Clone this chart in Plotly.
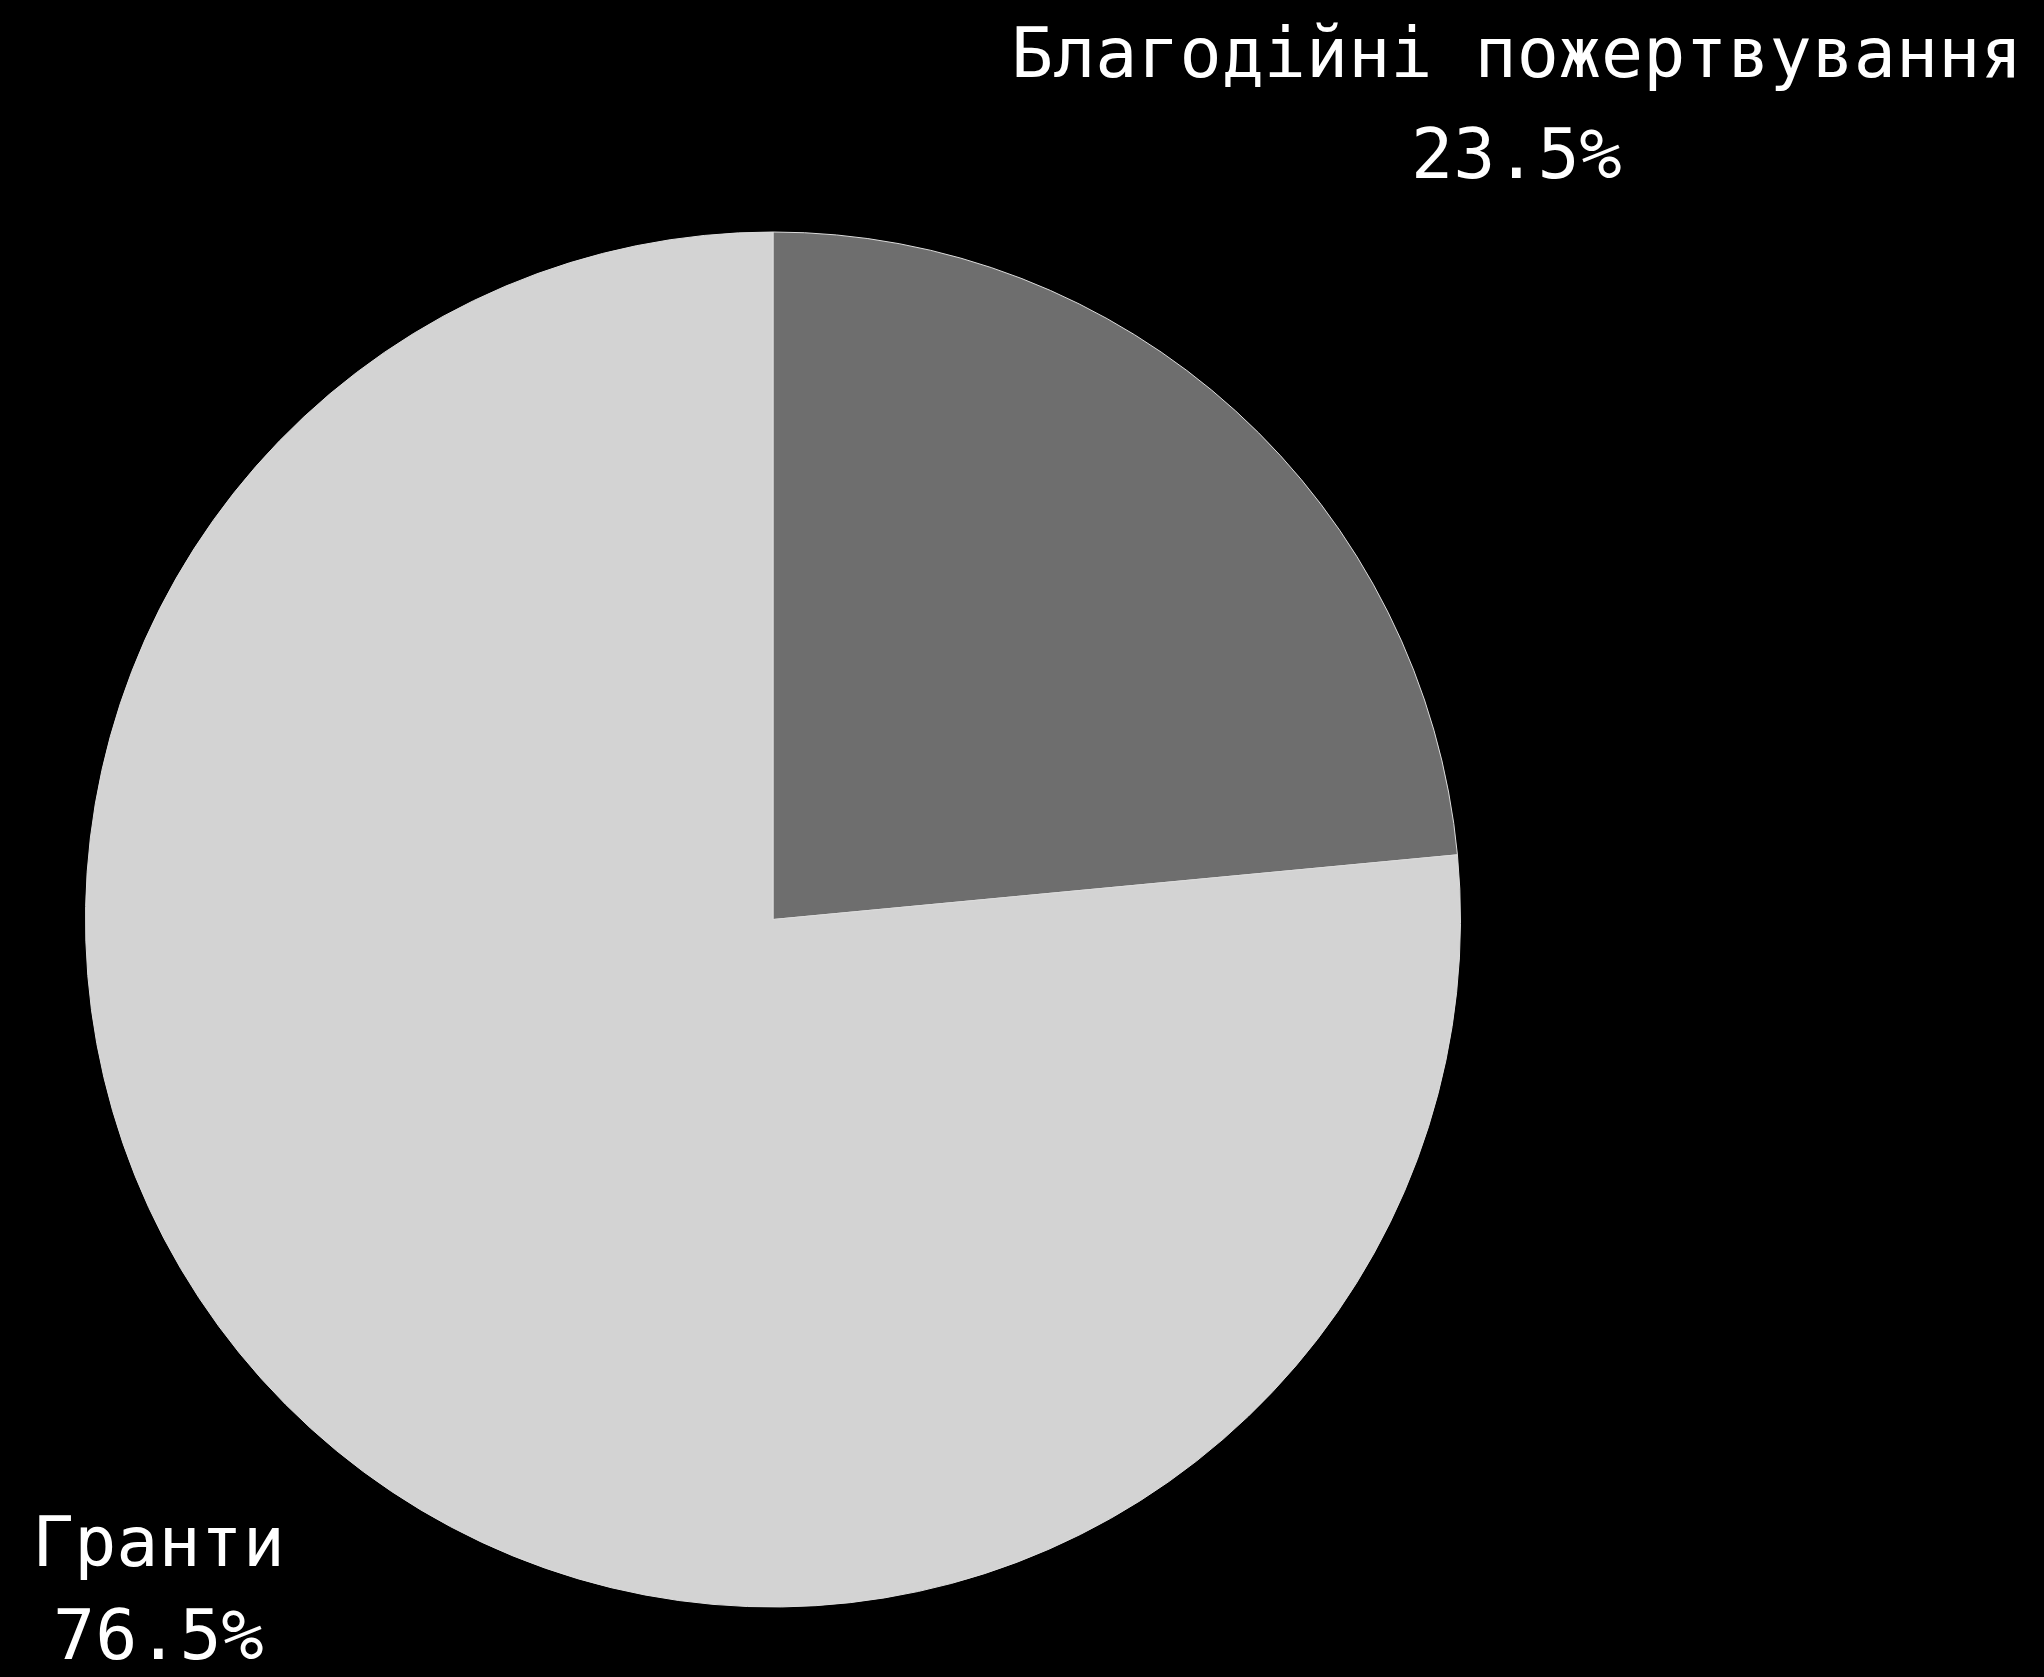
import plotly.graph_objects as go

labels = ["Благодійні пожертвування", "Гранти"]
values = [23.5, 76.5]
colors = ["#6e6e6e", "#d3d3d3"]

W, H = 2044, 1677
FONT = "DejaVu Sans Mono"

total = sum(values)
pct_text = [f"{v / total * 100:.1f}%" for v in values]

fig = go.Figure(
    go.Pie(
        labels=labels,
        values=values,
        sort=False,
        direction="clockwise",
        rotation=0,
        marker=dict(colors=colors, line=dict(color="#dcdcdc", width=1)),
        textinfo="none",
        domain=dict(x=[85 / W, 1461 / W], y=[70 / H, 1445 / H]),
        showlegend=False,
        hoverinfo="label+percent",
    )
)

# label positions (paper coords) for each slice: (x, y of label line, y of percent line)
label_pos = [(1516 / W, 1 - 53 / H, 1 - 154 / H), (158 / W, 1 - 1542 / H, 1 - 1635 / H)]

annotations = []
for lab, pct, (x, y1, y2) in zip(labels, pct_text, label_pos):
    for txt, y in ((lab, y1), (pct, y2)):
        annotations.append(
            dict(
                text=txt,
                x=x,
                y=y,
                xref="paper",
                yref="paper",
                xanchor="center",
                yanchor="middle",
                showarrow=False,
                font=dict(family=FONT, size=70, color="white"),
            )
        )

fig.update_layout(
    width=W,
    height=H,
    paper_bgcolor="black",
    plot_bgcolor="black",
    margin=dict(l=0, r=0, t=0, b=0),
    font=dict(family=FONT, color="white"),
    annotations=annotations,
)
fig.write_html(
    "out.html",
    config={"displayModeBar": False},
    post_script="document.body.style.margin='0';document.body.style.backgroundColor='black';document.body.style.overflow='hidden';",
)
